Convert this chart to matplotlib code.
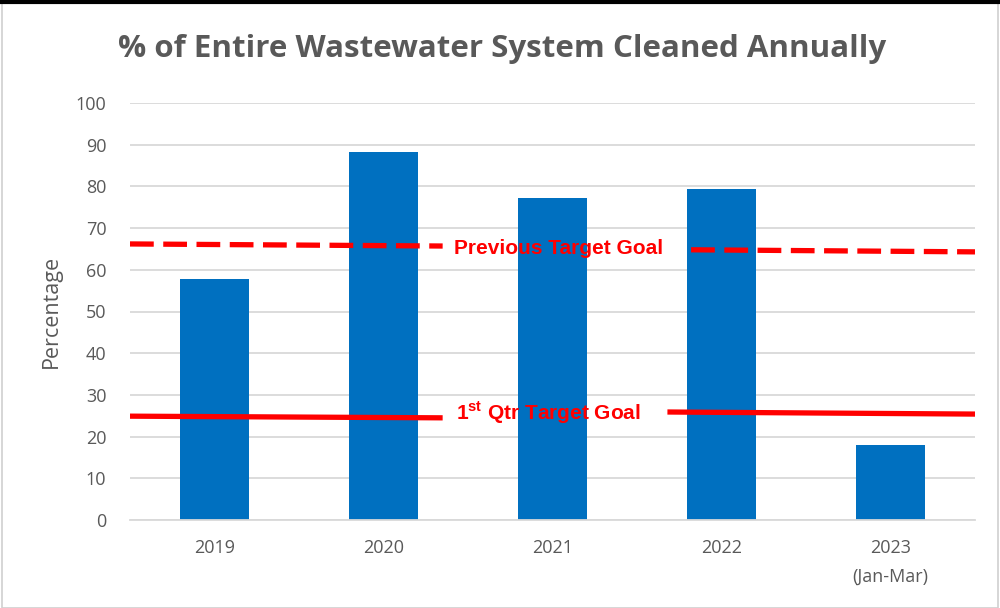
"""% of entire wastewater system cleaned annually, with target goal lines."""

import matplotlib
matplotlib.use("Agg")
import matplotlib.pyplot as plt
from matplotlib.patches import Rectangle
from matplotlib.lines import Line2D

categories = ["2019", "2020", "2021", "2022", "2023\n(Jan-Mar)"]
cleaned_pct = [57.8, 88.3, 77.2, 79.3, 18.1]

# target lines, drawn as two pieces with a gap for the label
prev_goal_x = [[-0.5, 1.35], [2.82, 4.5]]
prev_goal_y = [[66.2, 65.7], [64.8, 64.3]]
qtr_goal_x = [[-0.5, 1.35], [2.68, 4.5]]
qtr_goal_y = [[24.9, 24.5], [25.9, 25.4]]

gray = "#595959"
red = "#FF0000"

plt.rcParams["mathtext.fontset"] = "custom"
plt.rcParams["mathtext.bf"] = "Liberation Sans:bold"
plt.rcParams["mathtext.rm"] = "Liberation Sans:bold"

fig = plt.figure(figsize=(10, 6.08), dpi=100)
ax = fig.add_axes([0.130, 1 - 520 / 608, 0.845, 417 / 608])

x = range(len(categories))
ax.bar(x, cleaned_pct, width=0.41, color="#0070C0", zorder=2)

for xs, ys in zip(prev_goal_x, prev_goal_y):
    ax.plot(xs, ys, color=red, lw=3.8, linestyle=(0, (4.5, 1.8)), zorder=3,
            solid_capstyle="butt", dash_capstyle="butt")
for xs, ys in zip(qtr_goal_x, qtr_goal_y):
    ax.plot(xs, ys, color=red, lw=3.8, zorder=3, solid_capstyle="butt")

ax.text(1.42, 65.0, "Previous Target Goal", color=red, fontsize=15, fontweight="bold",
        family="Liberation Sans", va="center", ha="left", zorder=4)
ax.text(1.43, 25.7, r"1$^{\mathrm{st}}$ Qtr Target Goal", color=red, fontsize=15,
        fontweight="bold", family="Liberation Sans", va="center", ha="left", zorder=4)

ax.set_xlim(-0.5, 4.5)
ax.set_ylim(0, 100)
ax.set_yticks(range(0, 101, 10))
ax.set_xticks(list(x))
ax.set_xticklabels(categories, linespacing=1.75)
ax.tick_params(axis="both", length=0, labelsize=13, colors=gray)
ax.tick_params(axis="x", pad=14)
ax.tick_params(axis="y", pad=17)
for lbl in ax.get_xticklabels() + ax.get_yticklabels():
    lbl.set_family("Open Sans")
ax.grid(axis="y", color="#d9d9d9", lw=1.3, zorder=0)
for side in ["top", "right", "left"]:
    ax.spines[side].set_visible(False)
ax.spines["bottom"].set_color("#d9d9d9")
ax.spines["bottom"].set_linewidth(1.3)
ax.set_ylabel("Percentage", fontsize=15.5, color=gray, family="Open Sans", labelpad=10)

fig.text(0.502, 1 - 49 / 608, "% of Entire Wastewater System Cleaned Annually",
         ha="center", va="center", fontsize=22.5, fontweight="bold", color=gray,
         family="Open Sans")

# frame around the chart area and dark strip at the top
fig.patches.append(Rectangle((0.002, 0.0), 0.996, 0.995, transform=fig.transFigure,
                             fill=False, edgecolor="#d0d0d0", lw=1.2))
fig.lines.append(Line2D([0, 1], [0.997, 0.997], transform=fig.transFigure,
                        color="black", lw=3))

fig.savefig("out.png", dpi=100)
plt.close(fig)
